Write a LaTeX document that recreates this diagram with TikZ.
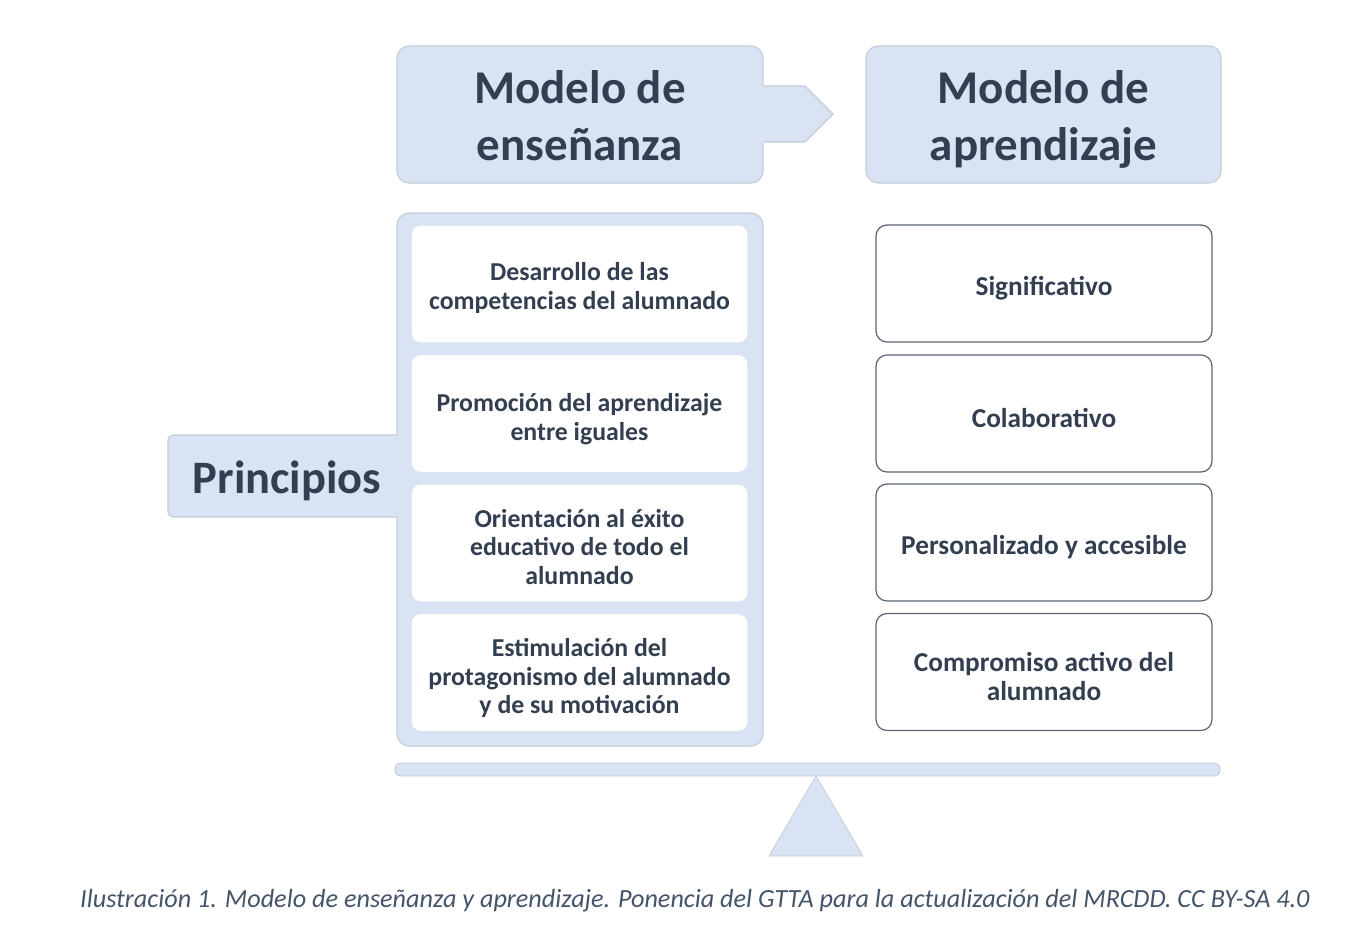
\documentclass[tikz,border=0pt]{standalone}
\usepackage{fontspec}
\setmainfont{Carlito}
\definecolor{lb}{HTML}{DAE3F3}
\definecolor{lbb}{HTML}{C3CCD9}
\definecolor{tx}{HTML}{333F50}
\definecolor{cp}{HTML}{44546A}
\definecolor{bx}{HTML}{5A6472}
\begin{document}
\begin{tikzpicture}[x=1pt,y=-1pt,
  hdr/.style={fill=lb,draw=lbb,line width=1.1pt,rounded corners=12pt},
  hdrtxt/.style={text=tx,font=\bfseries\fontsize{47}{57}\selectfont,align=center},
  wbox/.style={fill=white,draw=white!92!lb,line width=0.8pt,rounded corners=9pt,minimum width=335pt,minimum height=116pt},
  wtxt/.style={text=tx,font=\bfseries\fontsize{25.8}{28.7}\selectfont,align=center},
  rbox/.style={fill=white,draw=bx,line width=1.2pt,rounded corners=11pt,minimum width=336pt,minimum height=117pt},
  rtxt/.style={text=tx,font=\bfseries\fontsize{27.3}{29.5}\selectfont,align=center}]
\useasboundingbox[fill=white] (0,0) rectangle (1371,927);
% left header with arrow
\node[hdr,minimum width=366pt,minimum height=137pt] (hl) at (580,114.5) {};
\fill[lb] (760,86) -- (805,86) -- (833,114) -- (805,142) -- (760,142) -- cycle;
\draw[lbb,line width=1.1pt] (hl.east |- 0,86) -- (805,86) -- (833,114) -- (805,142) -- (hl.east |- 0,142);
\node[hdrtxt] (hlt) at (580,116) {Modelo de\\enseñanza};
% right header
\node[hdr,minimum width=355pt,minimum height=137pt] (hr) at (1043.5,114.5) {};
\node[hdrtxt] (hrt) at (1043.5,119.5) {Modelo de\\aprendizaje};
% container and tab
\node[hdr,minimum width=366pt,minimum height=533pt] (cont) at (580,479.5) {};
\fill[lb,rounded corners=5pt] (168,435) rectangle (402,517);
\draw[lbb,line width=1.1pt,rounded corners=5pt] (cont.west |- 0,435) -- (168,435) -- (168,517) -- (cont.west |- 0,517);
\node[text=tx,font=\bfseries\fontsize{46.5}{52}\selectfont] (tab) at (287,481) {Principios};
% inner white boxes
\node[wbox] (p1) at (579.5,284) {};
\node[wtxt] (p1t) at (579.5,288) {Desarrollo de las\\competencias del alumnado};
\node[wbox] (p2) at (579.5,413.5) {};
\node[wtxt] (p2t) at (579.5,419) {Promoción del aprendizaje\\entre iguales};
\node[wbox] (p3) at (579.5,543) {};
\node[wtxt] (p3t) at (579.5,547) {Orientación al éxito\\educativo de todo el\\alumnado};
\node[wbox] (p4) at (579.5,672.5) {};
\node[wtxt] (p4t) at (579.5,678) {Estimulación del\\protagonismo del alumnado\\y de su motivación};
% right boxes
\node[rbox] (a1) at (1044,283.5) {};
\node[rtxt] (a1t) at (1044,288) {Significativo};
\node[rbox] (a2) at (1044,413.5) {};
\node[rtxt] (a2t) at (1044,418) {Colaborativo};
\node[rbox] (a3) at (1044,542.5) {};
\node[rtxt] (a3t) at (1044,547) {Personalizado y accesible};
\node[rbox] (a4) at (1044,672) {};
\node[rtxt] (a4t) at (1044,676.5) {Compromiso activo del\\alumnado};
% balance
\node[fill=lb,draw=lbb,line width=0.9pt,rounded corners=6pt,minimum width=825pt,minimum height=13pt,inner sep=0pt] (beam) at (807.5,769.5) {};
\coordinate (apex) at (816,776);
\filldraw[fill=lb,draw=lbb,line width=0.8pt] (apex) -- (863,856) -- (769,856) -- cycle;
% caption
\node[text=cp,font=\itshape\fontsize{26.2}{30}\selectfont] (cap) at (695,901) {Ilustración 1. Modelo de enseñanza y aprendizaje. Ponencia del GTTA para la actualización del MRCDD. CC BY-SA 4.0};
\end{tikzpicture}
\end{document}
